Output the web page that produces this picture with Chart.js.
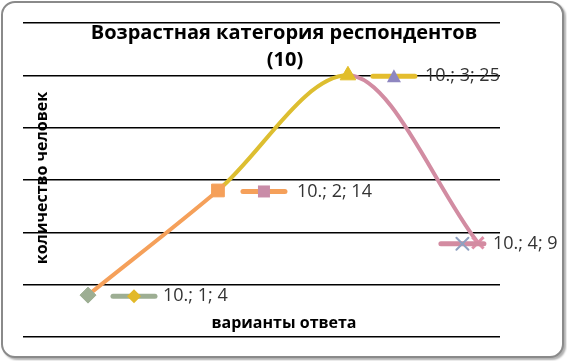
<!DOCTYPE html>
<html>
<head>
<meta charset="utf-8">
<script src="https://cdn.jsdelivr.net/npm/chart.js@4.4.1/dist/chart.umd.min.js"></script>
<style>
  html, body { margin: 0; padding: 0; background: #fff; }
  #frame {
    position: absolute; left: 1px; top: 1px; width: 559px; height: 353px;
    border: 2px solid #8a8a8a; border-radius: 14px;
    box-shadow: 2px 2px 2px #b0b0b0; background: #fff;
  }
  #chart { position: absolute; left: 0; top: 0; }
</style>
</head>
<body>
<div id="frame"></div>
<canvas id="chart" width="567" height="361"></canvas>
<script>
  // series name, x categories, values
  const seriesName = '10.';
  const xValues = [1, 2, 3, 4];
  const yValues = [4, 14, 25, 9];
  const yTicks = [0, 5, 10, 15, 20, 25, 30];

  const segmentColors = ['#F5A05A', '#DDBE30', '#D28CA2'];
  const pointStyles = ['rectRot', 'rect', 'triangle', 'crossRot'];
  const pointColors = ['#9DAE93', '#F5A05A', '#E2BE2A', '#E08FA8'];

  // legend keys drawn inside the data labels
  const keyLineColors = ['#9DAE93', '#F5A05A', '#E4BD2E', '#D38BA1'];
  const keyMarkerColors = ['#E2B92A', '#C98CA8', '#8E86C0', '#8FA0C0'];
  // label offsets from each point: key start, key end, text start
  const labelOffsets = [[25, 67, 75], [25, 67, 79], [25, 67, 77], [-37, 6, 15]];

  const labelsPlugin = {
    id: 'labels',
    afterDatasetsDraw(chart) {
      const ctx = chart.ctx;
      const xs = chart.scales.x, ys = chart.scales.y;
      ctx.save();
      xValues.forEach((xv, i) => {
        const px = xs.getPixelForValue(xv);
        const py = ys.getPixelForValue(yValues[i]);
        const [a, b, t] = labelOffsets[i];
        ctx.strokeStyle = keyLineColors[i];
        ctx.lineWidth = 5;
        ctx.lineCap = 'round';
        ctx.beginPath();
        ctx.moveTo(px + a, py + 1);
        ctx.lineTo(px + b, py + 1);
        ctx.stroke();
        const mx = (px + a + px + b) / 2;
        const my = py + 1;
        ctx.fillStyle = keyMarkerColors[i];
        ctx.strokeStyle = keyMarkerColors[i];
        ctx.lineWidth = 2;
        ctx.beginPath();
        if (pointStyles[i] === 'rectRot') {
          ctx.moveTo(mx, my - 7); ctx.lineTo(mx + 7, my); ctx.lineTo(mx, my + 7); ctx.lineTo(mx - 7, my);
          ctx.closePath(); ctx.fill();
        } else if (pointStyles[i] === 'rect') {
          ctx.fillRect(mx - 6, my - 6, 12, 12);
        } else if (pointStyles[i] === 'triangle') {
          ctx.moveTo(mx, my - 7); ctx.lineTo(mx + 7, my + 6); ctx.lineTo(mx - 7, my + 6);
          ctx.closePath(); ctx.fill();
        } else {
          ctx.moveTo(mx - 6, my - 6); ctx.lineTo(mx + 6, my + 6);
          ctx.moveTo(mx + 6, my - 6); ctx.lineTo(mx - 6, my + 6);
          ctx.stroke();
        }
        ctx.fillStyle = '#333';
        ctx.font = '18px "Open Sans", sans-serif';
        ctx.textAlign = 'left';
        ctx.textBaseline = 'middle';
        ctx.fillText(seriesName + '; ' + xv + '; ' + yValues[i], px + t, py + 1);
      });

      // titles
      ctx.fillStyle = '#000';
      ctx.textAlign = 'center';
      ctx.textBaseline = 'middle';
      ctx.font = 'bold 20px "Open Sans", sans-serif';
      ctx.fillText('Возрастная категория респондентов', 284, 33);
      ctx.fillText('(10)', 285, 60);
      ctx.font = 'bold 16px "Open Sans", sans-serif';
      ctx.fillText('варианты ответа', 284, 323);
      ctx.translate(42, 178);
      ctx.rotate(-Math.PI / 2);
      ctx.fillText('количество человек', 0, 0);
      ctx.restore();
    }
  };

  new Chart(document.getElementById('chart'), {
    type: 'line',
    data: {
      datasets: [{
        label: seriesName,
        data: xValues.map((x, i) => ({ x: x, y: yValues[i] })),
        borderWidth: 4,
        cubicInterpolationMode: 'monotone',
        segment: { borderColor: c => segmentColors[c.p0DataIndex] },
        borderColor: segmentColors[0],
        pointStyle: pointStyles,
        pointRadius: [8, 9, 9, 8],
        pointBackgroundColor: pointColors,
        pointBorderColor: pointColors,
        pointBorderWidth: [1, 1, 1, 3]
      }]
    },
    options: {
      responsive: false,
      animation: false,
      layout: { padding: { left: 23, right: 67, top: 23, bottom: 16 } },
      plugins: { legend: { display: false }, tooltip: { enabled: false } },
      scales: {
        x: {
          type: 'linear', min: 0.5, max: 4.17,
          grid: { display: false },
          border: { display: false },
          ticks: { display: false }
        },
        y: {
          min: yTicks[0], max: yTicks[yTicks.length - 1],
          afterBuildTicks: s => { s.ticks = yTicks.map(v => ({ value: v })); },
          grid: { color: '#000', lineWidth: 1.5, drawTicks: false },
          border: { display: false },
          ticks: { display: false }
        }
      }
    },
    plugins: [labelsPlugin]
  });
</script>
</body>
</html>
